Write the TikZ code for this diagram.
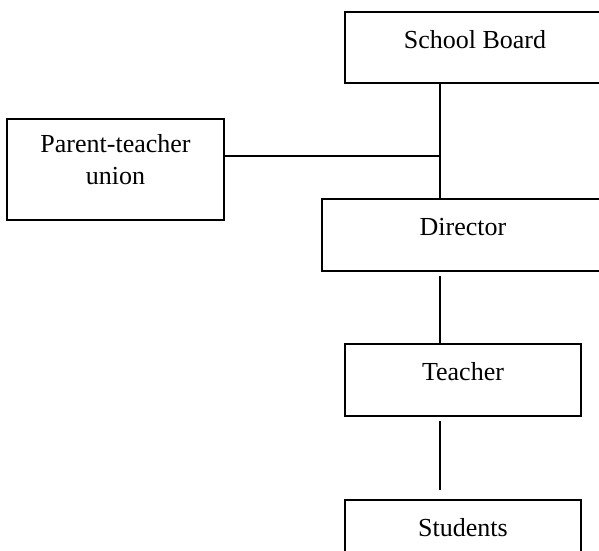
\documentclass[tikz,border=0pt]{standalone}
\usepackage{fontspec}
\setmainfont{Liberation Serif}
\begin{document}
\begin{tikzpicture}[x=1pt,y=-1pt,
  unit/.style={draw,line width=1.2pt,inner sep=0pt,align=center,
    font=\fontsize{26}{32}\selectfont,text height=17pt,text depth=16pt},
  link/.style={-,line width=1.2pt}]
 \useasboundingbox (0,0) rectangle (599,550);
 \clip (0,0) rectangle (599,550);
 %
 \node[unit,minimum width=260,minimum height=71] (board) at (475,47.5) {School Board};
 \node[unit,minimum width=217,minimum height=101,text height=45pt] (union) at (115.5,169.5) {Parent-teacher\\union};
 \node[unit,minimum width=282,minimum height=72] (director) at (463,235) {Director};
 \node[unit,minimum width=236,minimum height=72] (teacher) at (463,380) {Teacher};
 \node[unit,minimum width=236,minimum height=72] (students) at (463,536) {Students};
 %
 \coordinate (spine) at (440,0);
 \coordinate (join) at (440,156);
 %
 \draw[link] (board.south -| spine) -- (director.north -| spine);
 \draw[link] (join -| union.east) -- (join);
 \draw[link,shorten <=4pt] (director.south -| spine) -- (teacher.north -| spine);
 \draw[link,shorten <=4pt,shorten >=9pt] (teacher.south -| spine) -- (students.north -| spine);
\end{tikzpicture}
\end{document}
